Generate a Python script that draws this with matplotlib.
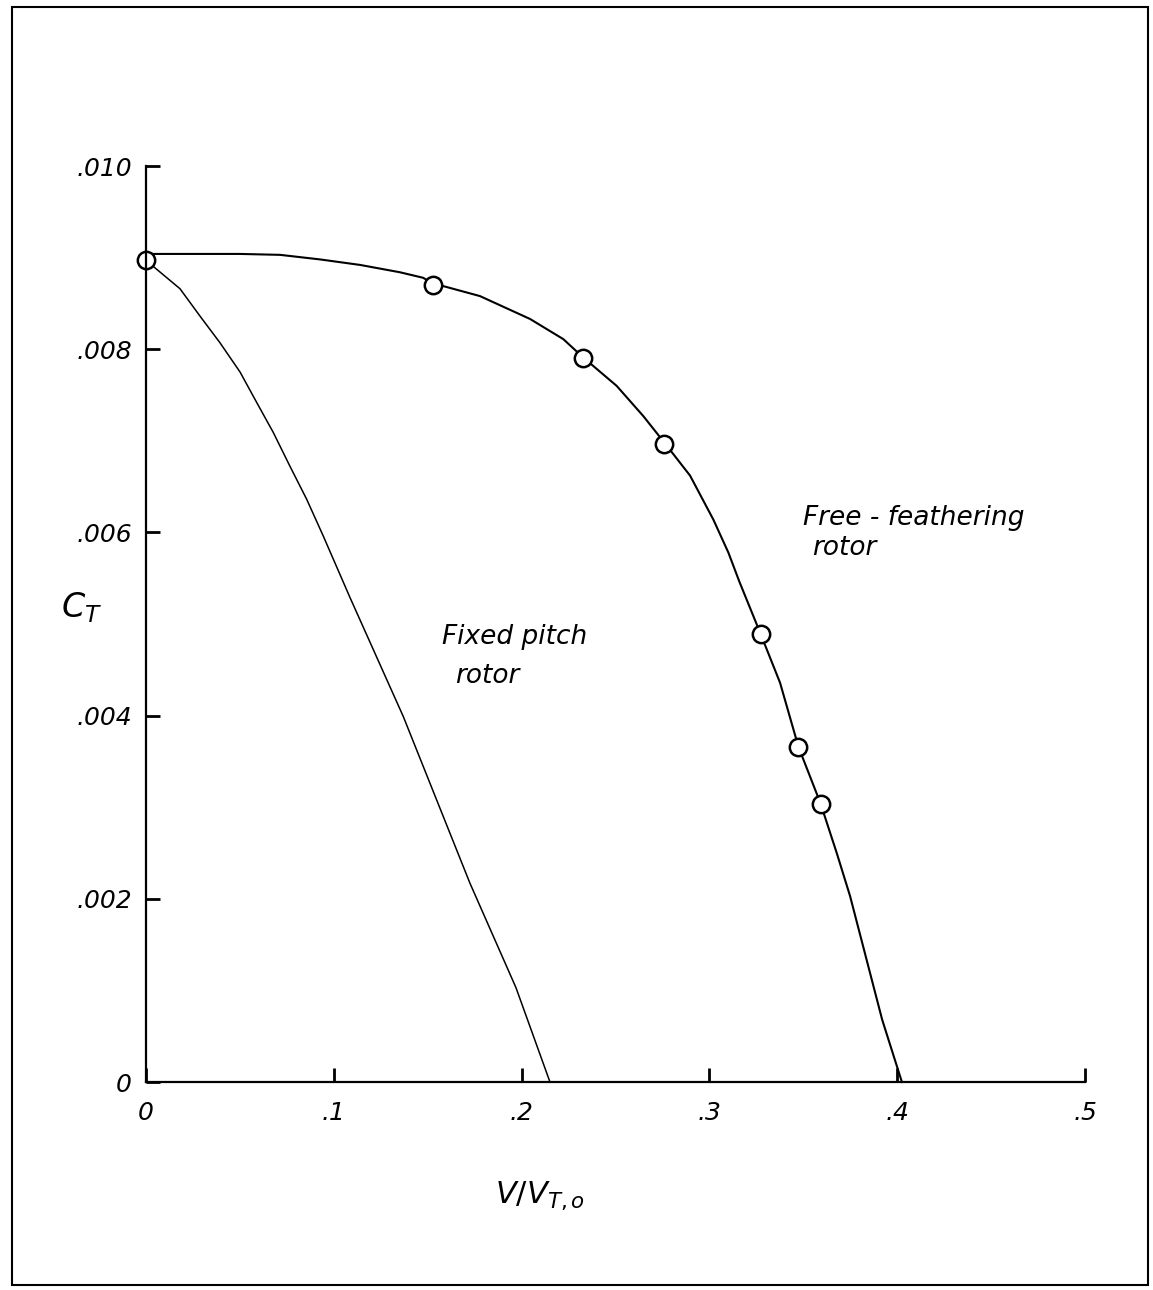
import matplotlib
matplotlib.use("Agg")
import matplotlib.pyplot as plt
from matplotlib.patches import Rectangle

# Measured points (free-feathering rotor)
test_x = [0.0, 0.1527, 0.2328, 0.276, 0.3273, 0.3474, 0.3592]
test_ct = [0.00897, 0.00870, 0.00790, 0.00697, 0.00489, 0.00366, 0.00304]

# Faired curve, free-feathering rotor
free_x = [0.0, 0.0234, 0.0501, 0.0714, 0.0927, 0.1140, 0.1352, 0.1475, 0.1527, 0.1778,
          0.2045, 0.2222, 0.2328, 0.2506, 0.2648, 0.2764, 0.2897, 0.3021, 0.3101, 0.316,
          0.3273, 0.3376, 0.3474, 0.3592, 0.3678, 0.3749, 0.392, 0.4025]
free_ct = [0.00904, 0.00904, 0.00904, 0.00903, 0.00898, 0.00892, 0.00884, 0.00878, 0.00872,
           0.00858, 0.00833, 0.00811, 0.00791, 0.00760, 0.00727, 0.00697, 0.00662, 0.00614,
           0.00578, 0.00546, 0.00489, 0.00436, 0.00366, 0.00304, 0.00250, 0.00203, 0.00068, 0.0]

# Faired curve, fixed-pitch rotor
fixed_x = [0.0, 0.0181, 0.0288, 0.0394, 0.0501, 0.0589, 0.0678, 0.0767, 0.0856, 0.0944,
           0.1086, 0.137, 0.1725, 0.197, 0.2151]
fixed_ct = [0.00897, 0.00866, 0.00836, 0.00807, 0.00775, 0.00742, 0.00709, 0.00672, 0.00636,
            0.00596, 0.00529, 0.00399, 0.00217, 0.00103, 0.0]

xticks = [0, 0.1, 0.2, 0.3, 0.4, 0.5]
xtick_labels = ["0", ".1", ".2", ".3", ".4", ".5"]
yticks = [0, 0.002, 0.004, 0.006, 0.008, 0.010]
ytick_labels = ["0", ".002", ".004", ".006", ".008", ".010"]

plt.rcParams['font.family'] = ['DejaVu Sans']
plt.rcParams['mathtext.fontset'] = 'dejavusans'

fig = plt.figure(figsize=(11.53, 12.90), dpi=100)
ax = fig.add_axes([146 / 1153, 1 - 1082 / 1290, (1085 - 146) / 1153, (1082 - 166) / 1290])

ax.plot(free_x, free_ct, color='black', lw=1.5, clip_on=False, solid_joinstyle='round')
ax.plot(fixed_x, fixed_ct, color='black', lw=1.1, clip_on=False, solid_joinstyle='round')
ax.plot(test_x, test_ct, 'o', ms=12.5, mfc='white', mec='black', mew=1.8, clip_on=False)

ax.set_xlim(0, 0.5)
ax.set_ylim(0, 0.010)
ax.spines['top'].set_visible(False)
ax.spines['right'].set_visible(False)
ax.spines['left'].set_linewidth(1.6)
ax.spines['bottom'].set_linewidth(1.6)

ax.set_xticks(xticks)
ax.set_xticklabels(xtick_labels, fontsize=18, style='italic')
ax.set_yticks(yticks)
ax.set_yticklabels(ytick_labels, fontsize=18, style='italic')
ax.tick_params(direction='in', length=10, width=2, pad=10)
ax.tick_params(axis='x', pad=14)

ax.set_xlabel(r"$V/V_{T,o}$", fontsize=22)
ax.xaxis.set_label_coords((540 - 146) / (1085 - 146), -(1180 - 1082) / (1082 - 166))
ax.set_ylabel(r"$C_T$", fontsize=24, rotation=0)
ax.yaxis.set_label_coords(-(146 - 82) / (1085 - 146), (1082 - 625) / (1082 - 166))

ax.text(0.409, 0.00616, "Free - feathering", fontsize=19, style='italic', ha='center', va='center')
ax.text(0.372, 0.00583, "rotor", fontsize=19, style='italic', ha='center', va='center')
ax.text(0.1965, 0.00486, "Fixed pitch", fontsize=19, style='italic', ha='center', va='center')
ax.text(0.1816, 0.00443, "rotor", fontsize=19, style='italic', ha='center', va='center')

# frame round the whole sheet
fig.patches.append(Rectangle((12 / 1153, 1 - 1285 / 1290), (1148 - 12) / 1153, (1285 - 7) / 1290,
                             transform=fig.transFigure, fill=False, edgecolor='black', lw=1.5))

fig.savefig("out.png", dpi=100)
